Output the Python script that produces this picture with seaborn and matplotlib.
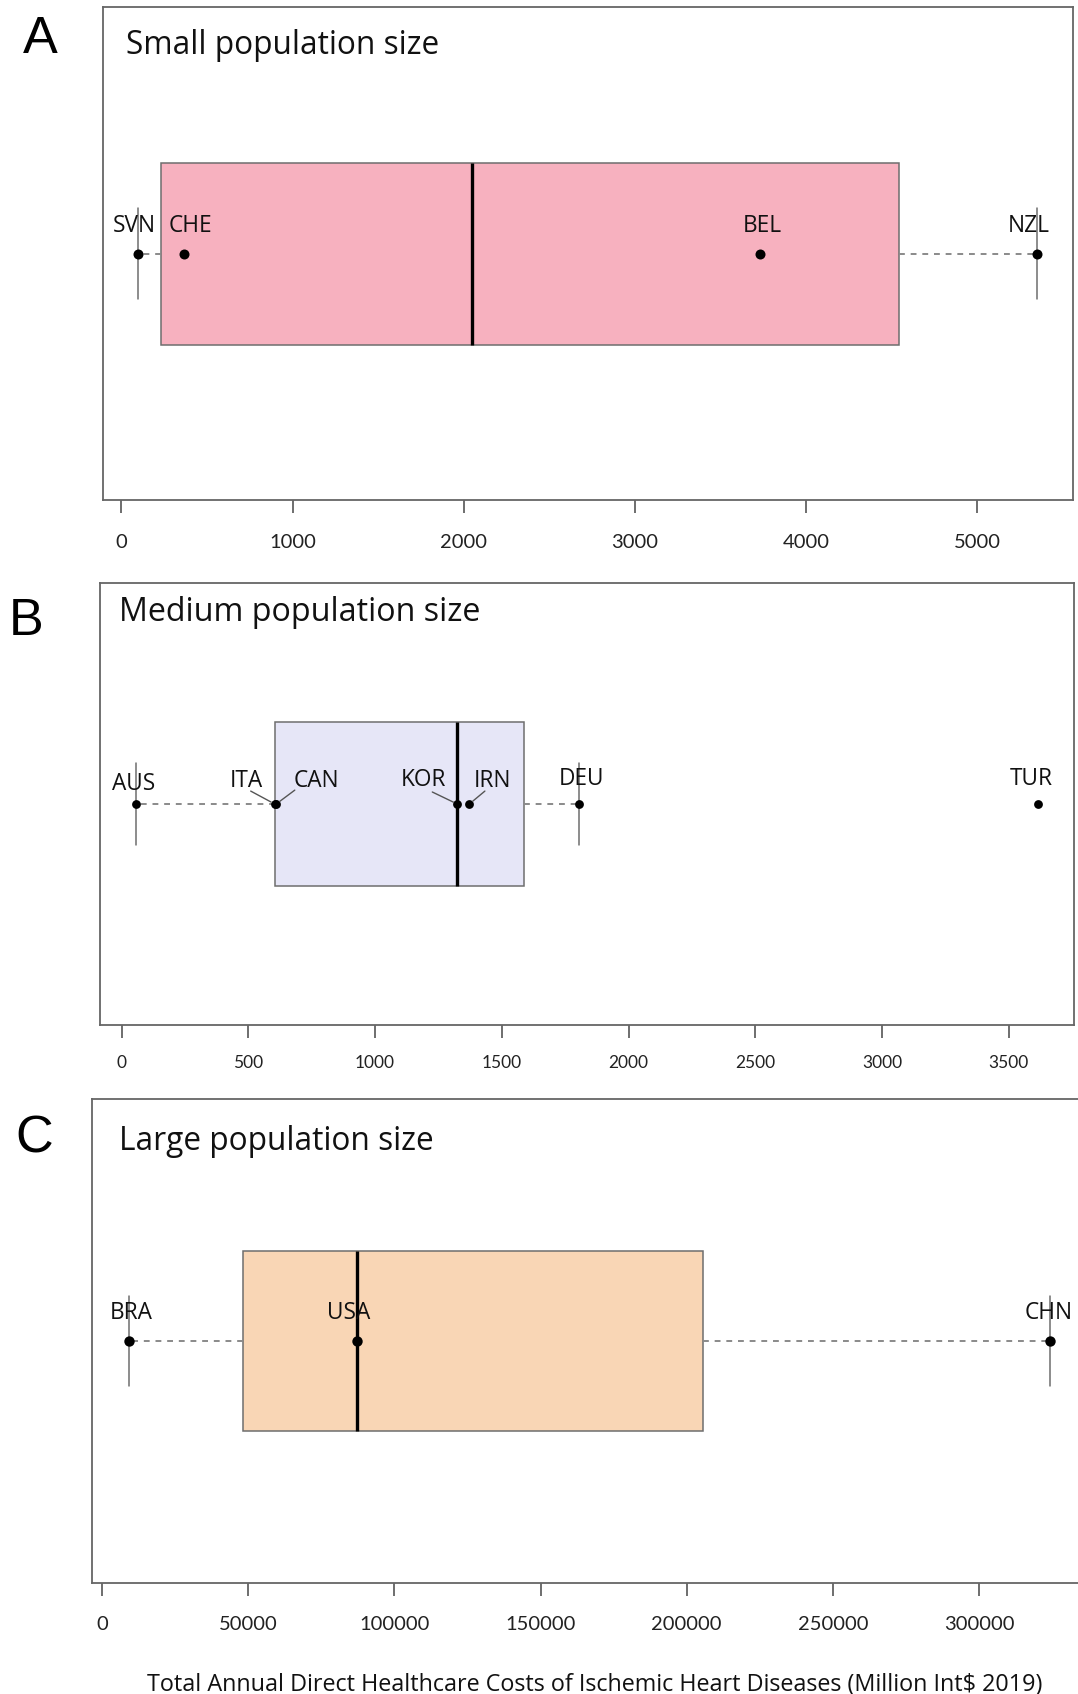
import numpy as np
import pandas as pd
import matplotlib
matplotlib.use("Agg")
import matplotlib.pyplot as plt
import seaborn as sns

# ---------------- data ----------------
small_countries = ["SVN", "CHE", "BEL", "NZL"]
small_costs = [100, 366, 3733, 5349]

medium_countries = ["AUS", "ITA", "CAN", "KOR", "IRN", "DEU", "TUR"]
medium_costs = [57, 604, 610, 1324, 1372, 1805, 3615]

large_countries = ["BRA", "USA", "CHN"]
large_costs = [9300, 87140, 324200]

panel_letters = ["A", "B", "C"]
panel_titles = ["Small population size", "Medium population size", "Large population size"]
small_ticks = [0, 1000, 2000, 3000, 4000, 5000]
medium_ticks = [0, 500, 1000, 1500, 2000, 2500, 3000, 3500]
large_ticks = [0, 50000, 100000, 150000, 200000, 250000, 300000]
box_colors = ["#F7B1BF", "#E6E6F7", "#F9D6B5"]
x_label = "Total Annual Direct Healthcare Costs of Ischemic Heart Diseases (Million Int$ 2019)"

# ---------------- layout (pixels) ----------------
W, H = 1078, 1694
axes_px = [  # left, right, top, bottom
    (102.5, 1073.0, 7.5, 500.0),
    (100.0, 1074.0, 583.0, 1025.0),
    (92.3, 1086.7, 1099.0, 1583.3),
]
letter_px = [(40, 53), (26, 635), (34, 1152)]
title_px = [(126, 54), (119, 621.4), (119, 1149.7)]
title_size = [22.8, 23.2, 22.8]
point_size = [52, 40, 56]
tick_font = [14.5, 12.5, 14.5]
tick_pad = [15, 12, 14.4]
TEXT_FONT = ["Open Sans", "DejaVu Sans"]
# label offsets in pixels: (dx, baseline height above point, leader-line anchor on text box)
label_offsets = {
    "SVN": (-4, 21.6, None), "CHE": (6, 21.6, None), "BEL": (2, 21.6, None), "NZL": (-8, 21.6, None),
    "AUS": (-2, 13.6, None), "ITA": (-28, 17, (0.62, 0.08)), "CAN": (40, 17, (0.03, 0.12)),
    "KOR": (-34, 18, (0.7, 0.0)), "IRN": (23, 17, (0.3, 0.08)), "DEU": (2, 19, None), "TUR": (-7, 19, None),
    "BRA": (2, 22.5, None), "USA": (-8, 22.5, None), "CHN": (-1, 22.5, None),
}

sns.set_theme(style="white")
plt.rcParams['font.family'] = ['Lato', 'DejaVu Sans']

fig = plt.figure(figsize=(W / 100, H / 100), dpi=100)


def fivenum(v):
    x = np.sort(np.asarray(v, dtype=float))
    n = len(x)
    n4 = np.floor((n + 3) / 2) / 2
    d = np.array([1, n4, (n + 1) / 2, n + 1 - n4, n]) - 1
    return 0.5 * (x[np.floor(d).astype(int)] + x[np.ceil(d).astype(int)])


def box_stats(v):
    f = fivenum(v)
    q1, med, q3 = f[1], f[2], f[3]
    iqr = q3 - q1
    inside = [x for x in v if q1 - 1.5 * iqr <= x <= q3 + 1.5 * iqr]
    return dict(med=med, q1=q1, q3=q3, whislo=min(inside), whishi=max(inside), fliers=[])


def draw_panel(i, countries, costs, ticks):
    l, r, t, b = axes_px[i]
    ax = fig.add_axes([l / W, 1 - b / H, (r - l) / W, (b - t) / H])
    df = pd.DataFrame({"country": countries, "cost": costs, "pos": 0.0})

    ax.bxp([box_stats(costs)], positions=[0], widths=0.4, capwidths=0.2,
           orientation="horizontal", patch_artist=True, showfliers=False,
           boxprops=dict(facecolor=box_colors[i], edgecolor="#6e6e6e", linewidth=1.1),
           medianprops=dict(color="black", linewidth=2.4),
           whiskerprops=dict(color="#8a8a8a", linestyle=(0, (3, 3)), linewidth=1.4),
           capprops=dict(color="#6e6e6e", linewidth=1.1),
           manage_ticks=False, zorder=2)

    sns.scatterplot(data=df, x="cost", y="pos", ax=ax, color="black", s=point_size[i],
                    edgecolor="black", linewidth=0, legend=False, zorder=5)

    for c, v in zip(countries, costs):
        dx, dy, rel = label_offsets[c]
        kw = {}
        if rel is not None:
            kw["arrowprops"] = dict(arrowstyle="-", color="#555555", lw=1.0,
                                    shrinkA=0, shrinkB=3, relpos=rel, patchA=None)
        ax.annotate(c, xy=(v, 0), xytext=(dx, dy), textcoords="offset pixels",
                    ha="center", va="baseline", fontsize=16.3, color="#111111",
                    family=TEXT_FONT, annotation_clip=False, zorder=6, **kw)

    lo, hi = min(costs), max(costs)
    pad = 0.04 * (hi - lo)
    ax.set_xlim(lo - pad, hi + pad)
    ax.set_ylim(-0.54, 0.54)
    ax.set_yticks([])
    ax.set_xticks(ticks)
    ax.set_xticklabels([str(tk) for tk in ticks])
    ax.set_xlabel("")
    ax.set_ylabel("")
    for s in ax.spines.values():
        s.set_visible(True)
        s.set_color("#666666")
        s.set_linewidth(1.3)
    ax.tick_params(axis="x", bottom=True, length=9.4, width=1.2, color="#555555",
                   pad=tick_pad[i], labelsize=tick_font[i], labelcolor="#222222", direction="out")

    lx, ly = letter_px[i]
    fig.text(lx / W, 1 - ly / H, panel_letters[i], ha="center", va="baseline",
             fontsize=37.5, family=["Liberation Sans", "DejaVu Sans"], color="black")
    tx, ty = title_px[i]
    fig.text(tx / W, 1 - ty / H, panel_titles[i], ha="left", va="baseline",
             fontsize=title_size[i], color="#111111", family=TEXT_FONT)
    return ax


draw_panel(0, small_countries, small_costs, small_ticks)
draw_panel(1, medium_countries, medium_costs, medium_ticks)
draw_panel(2, large_countries, large_costs, large_ticks)

fig.text(594.5 / W, 1 - 1691 / H, x_label, ha="center", va="baseline", fontsize=16.8,
         color="#111111", family=TEXT_FONT)

fig.savefig("out.png", dpi=100)
